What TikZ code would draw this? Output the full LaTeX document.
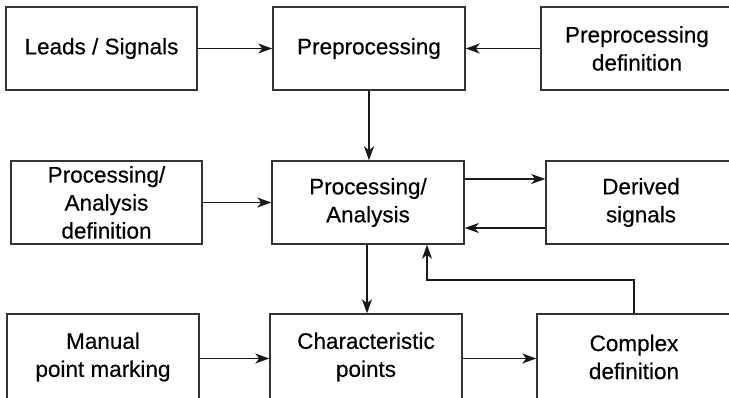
\documentclass[tikz,border=0pt]{standalone}
\usepackage{fontspec}
\setmainfont{Liberation Sans}
\newfontfamily\lblfont{Liberation Sans}[FakeBold=0.3]
\usetikzlibrary{arrows.meta}
\begin{document}
\begin{tikzpicture}[x=1pt,y=-1pt,
  blk/.style={draw=black!80, line width=1.5pt, fill=white, minimum height=83pt,
    inner sep=0pt, align=center, font=\lblfont\fontsize{22.5}{28}\selectfont},
  conn/.style={draw=black!90, line width=1.4pt, -{Stealth[length=14pt,width=10pt,inset=4pt]}}]
\useasboundingbox (0,0) rectangle (729,397);
\clip (0,0) rectangle (729,397);
\fill[white] (0,0) rectangle (729,397);
\node[blk, minimum width=191pt] (leads) at (101.5,48.5) {Leads / Signals};
\node[blk, minimum width=192pt] (pre) at (369,48.5) {Preprocessing};
\node[blk, minimum width=192pt] (predef) at (637,48.5) {Preprocessing\\definition};
\node[blk, minimum width=191pt] (procdef) at (106.5,202.5) {Processing/\\Analysis\\definition};
\node[blk, minimum width=192pt] (proc) at (368,202.5) {Processing/\\Analysis};
\node[blk, minimum width=190pt] (der) at (641,202.5) {Derived\\signals};
\node[blk, minimum width=192pt, minimum height=86pt] (man) at (103,357) {Manual\\point marking};
\node[blk, minimum width=192pt, minimum height=86pt] (char) at (366,357) {Characteristic\\points};
\node[blk, minimum width=194pt, minimum height=86pt] (cplx) at (634,357) {Complex\\definition};
\coordinate (turn) at (634,280);
\draw[conn] (leads.east) -- (pre.west);
\draw[conn] (predef.west) -- (pre.west -| pre.east);
\draw[conn] (pre.south) -- (pre.south |- proc.north);
\draw[conn] (procdef.east) -- (procdef.east -| proc.west);
\draw[conn] ([yshift=23.5pt]proc.east) -- ([yshift=23.5pt]proc.east -| der.west);
\draw[conn] ([yshift=-25.5pt]der.west) -- ([yshift=-25.5pt]der.west -| proc.east);
\draw[conn] ([xshift=-1pt]proc.south) -- ([xshift=-1pt]proc.south |- char.north);
\draw[conn] ([yshift=-1.5pt]man.east) -- ([yshift=-1.5pt]man.east -| char.west);
\draw[conn] ([yshift=-1.5pt]char.east) -- ([yshift=-1.5pt]char.east -| cplx.west);
\draw[conn] (cplx.north) -- (turn) -- (turn -| 427,0) -- (427,0 |- proc.south);
\end{tikzpicture}
\end{document}
